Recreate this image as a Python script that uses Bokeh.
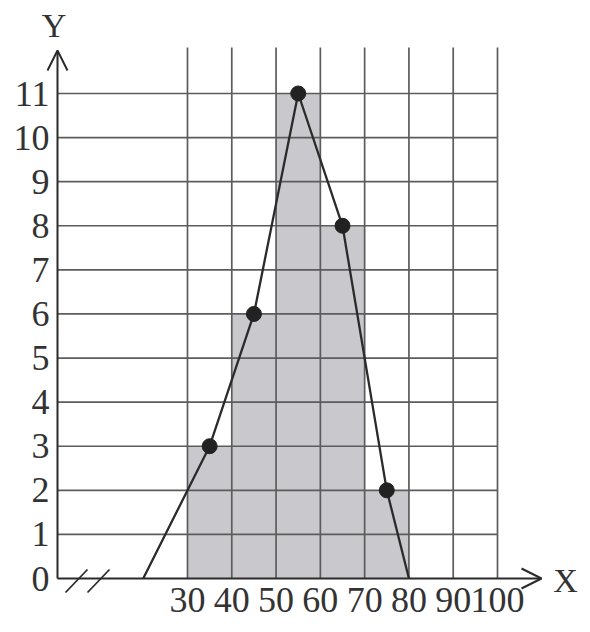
from bokeh.plotting import figure
from bokeh.models import Arrow, OpenHead, Label, FixedTicker
from bokeh.embed import file_html
from bokeh.resources import INLINE

# ---- data ----
bin_left = [30, 40, 50, 60, 70]
bin_right = [40, 50, 60, 70, 80]
freq = [3, 6, 11, 8, 2]
poly_x = [20, 35, 45, 55, 65, 75, 80]
poly_y = [0, 3, 6, 11, 8, 2, 0]
x_ticks = [30, 40, 50, 60, 70, 80, 90, 100]
y_ticks = [0, 1, 2, 3, 4, 5, 6, 7, 8, 9, 10, 11]
y_grid = [1, 2, 3, 4, 5, 6, 7, 8, 9, 10, 11]

# ---- layout (pixel scale of the reference) ----
PX_X = 310 / 70.0      # pixels per x unit
PX_Y = 485 / 11.0      # pixels per y unit
W, H = 582, 624

def dx(px):  # picture pixel -> data x
    return 30 + (px - 187) / PX_X

def dy(py):  # picture pixel -> data y
    return (578 - py) / PX_Y

x_start, x_end = dx(0), dx(W)
y_start, y_end = dy(H), dy(0)
x_axis_pos = dx(57)

FONT = "Liberation Serif"
TXT = "#333333"
LINE = "#2b2b2b"

p = figure(frame_width=W, frame_height=H,
           x_range=(x_start, x_end), y_range=(y_start, y_end),
           output_backend="svg", toolbar_location=None,
           min_border=0, min_border_left=0, min_border_top=0,
           min_border_right=0, min_border_bottom=0)
p.outline_line_color = None
p.grid.visible = False
p.background_fill_color = "white"
p.border_fill_color = "white"

# bars
p.quad(left=bin_left, right=bin_right, bottom=0, top=freq,
       fill_color="#c8c8cd", line_color=None)

# grid
top_v = dy(47)
p.segment(x0=[x_axis_pos] * len(y_grid), y0=y_grid,
          x1=[x_ticks[-1]] * len(y_grid), y1=y_grid,
          line_color="#5c5c5c", line_width=1.7)
p.segment(x0=x_ticks, y0=[0] * len(x_ticks), x1=x_ticks,
          y1=[top_v] * len(x_ticks),
          line_color="#5c5c5c", line_width=1.7)

# frequency polygon
p.line(poly_x, poly_y, line_color=LINE, line_width=2.3)
p.scatter(poly_x[1:-1], poly_y[1:-1], size=15, fill_color="#222222",
          line_color="#222222")

# axes (labels only), fixed inside the frame
for ax in (p.xaxis[0], p.yaxis[0]):
    ax.axis_line_color = None
    ax.major_tick_line_color = None
    ax.minor_tick_line_color = None
    ax.major_tick_out = 0
    ax.major_tick_in = 0
    ax.major_label_text_font = FONT
    ax.major_label_text_font_size = "36px"
    ax.major_label_text_color = TXT
p.xaxis.ticker = FixedTicker(ticks=x_ticks)
p.yaxis.ticker = FixedTicker(ticks=y_ticks)
p.xaxis.fixed_location = 0
p.yaxis.fixed_location = x_axis_pos
p.xaxis.major_label_standoff = 9
p.yaxis.major_label_standoff = 8

# axis lines with arrows
p.add_layout(Arrow(end=OpenHead(size=20, line_width=2, line_color=LINE),
                   x_start=x_axis_pos, y_start=0, x_end=dx(541), y_end=0,
                   line_width=2, line_color=LINE))
p.add_layout(Arrow(end=OpenHead(size=20, line_width=2, line_color=LINE),
                   x_start=x_axis_pos, y_start=0, x_end=x_axis_pos, y_end=dy(50),
                   line_width=2, line_color=LINE))

# axis break marks
p.add_layout(Arrow(end=None, x_start=dx(65), y_start=dy(592),
                   x_end=dx(87), y_end=dy(569), line_width=1.8, line_color=LINE))
p.add_layout(Arrow(end=None, x_start=dx(87), y_start=dy(592),
                   x_end=dx(109), y_end=dy(569), line_width=1.8, line_color=LINE))

# axis names
p.add_layout(Label(x=dx(53.5), y=dy(25), text="Y", text_font=FONT,
                   text_font_size="34px", text_color=TXT,
                   text_align="center", text_baseline="middle"))
p.add_layout(Label(x=dx(565), y=dy(580), text="X", text_font=FONT,
                   text_font_size="34px", text_color=TXT,
                   text_align="center", text_baseline="middle"))

open("out.html", "w").write(file_html(p, INLINE))
